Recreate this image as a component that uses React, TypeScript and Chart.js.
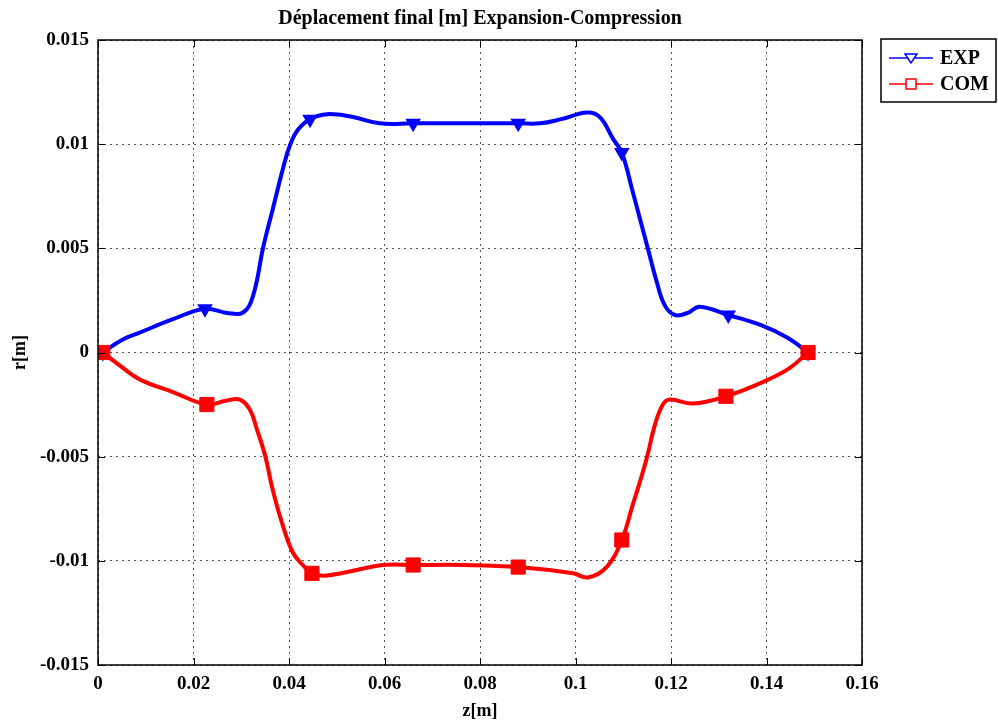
import React, { useEffect, useRef } from "react";
import { Chart, registerables } from "chart.js";

Chart.register(...registerables);

const chartTitle = "Déplacement final [m] Expansion-Compression";
const xTitle = "z[m]";
const yTitle = "r[m]";
const seriesNames = ["EXP", "COM"];

const expZ = [0.001, 0.005, 0.0088, 0.0157, 0.0224, 0.027, 0.0304, 0.0325, 0.0346, 0.0366, 0.0387, 0.0402, 0.0419, 0.0444, 0.048, 0.0534, 0.059, 0.066, 0.075, 0.088, 0.0926, 0.097, 0.1024, 0.1051, 0.1079, 0.1097, 0.112, 0.1152, 0.117, 0.1187, 0.1208, 0.1235, 0.126, 0.132, 0.139, 0.1445, 0.1487];
const expR = [0, 0.0006, 0.00096, 0.0016, 0.0021, 0.0019, 0.00192, 0.00274, 0.00505, 0.00688, 0.0088, 0.00995, 0.0107, 0.0112, 0.01144, 0.0113, 0.011, 0.011, 0.011, 0.011, 0.011, 0.0112, 0.01152, 0.0113, 0.01024, 0.0096, 0.0077, 0.00495, 0.0034, 0.00226, 0.0018, 0.0019, 0.0022, 0.0018, 0.0013, 0.0007, 0];
const expMarkers = [0.001, 0.0224, 0.0444, 0.066, 0.088, 0.1097, 0.132, 0.1487];

const comZ = [0.001, 0.005, 0.0088, 0.0157, 0.0228, 0.027, 0.0297, 0.0318, 0.0333, 0.035, 0.0366, 0.0387, 0.0408, 0.0429, 0.0448, 0.048, 0.0597, 0.066, 0.077, 0.088, 0.0995, 0.1026, 0.1065, 0.1097, 0.112, 0.1135, 0.115, 0.1166, 0.1183, 0.1198, 0.1246, 0.1315, 0.139, 0.1445, 0.1487];
const comR = [0, -0.0007, -0.0013, -0.0019, -0.0025, -0.0023, -0.00226, -0.00274, -0.0037, -0.00495, -0.0066, -0.0083, -0.0096, -0.0102, -0.0106, -0.0107, -0.0102, -0.0102, -0.0102, -0.0103, -0.0106, -0.0108, -0.0103, -0.009, -0.0073, -0.0062, -0.005, -0.0035, -0.0025, -0.00226, -0.00245, -0.0021, -0.00144, -0.0008, 0];
const comMarkers = [0.001, 0.0228, 0.0448, 0.066, 0.088, 0.1097, 0.1315, 0.1487];

const xTicks = [0, 0.02, 0.04, 0.06, 0.08, 0.1, 0.12, 0.14, 0.16];
const yTicks = [-0.015, -0.01, -0.005, 0, 0.005, 0.01, 0.015];

const BLUE = "#0000ff";
const RED = "#ff0000";
const FONT = "'Liberation Serif', 'DejaVu Serif', serif";

function fmt(v: number): string {
  return String(Number(v.toFixed(4)));
}

const decorPlugin = {
  id: "decor",
  afterDraw(chart: any) {
    const { ctx, chartArea } = chart;
    const { left, right, top, bottom } = chartArea;
    const xs = chart.scales.x;
    const ys = chart.scales.y;
    ctx.save();
    ctx.strokeStyle = "#000";
    ctx.lineWidth = 1.5;
    ctx.setLineDash([]);
    ctx.strokeRect(left, top, right - left, bottom - top);
    ctx.lineWidth = 1;
    const tl = 7;
    ctx.beginPath();
    xTicks.forEach((t) => {
      const px = Math.round(xs.getPixelForValue(t)) + 0.5;
      ctx.moveTo(px, bottom);
      ctx.lineTo(px, bottom - tl);
      ctx.moveTo(px, top);
      ctx.lineTo(px, top + tl);
    });
    yTicks.forEach((t) => {
      const py = Math.round(ys.getPixelForValue(t)) + 0.5;
      ctx.moveTo(left, py);
      ctx.lineTo(left + tl, py);
      ctx.moveTo(right, py);
      ctx.lineTo(right - tl, py);
    });
    ctx.stroke();
    ctx.fillStyle = "#000";
    ctx.font = `bold 20px ${FONT}`;
    ctx.textAlign = "center";
    ctx.textBaseline = "middle";
    ctx.fillText(chartTitle, (left + right) / 2, 19);
    ctx.font = `bold 18px ${FONT}`;
    ctx.fillText(xTitle, (left + right) / 2, 711);
    ctx.save();
    ctx.translate(20, (top + bottom) / 2);
    ctx.rotate(-Math.PI / 2);
    ctx.fillText(yTitle, 0, 0);
    ctx.restore();
    ctx.lineWidth = 1.5;
    ctx.strokeStyle = "#000";
    ctx.strokeRect(881, 39, 115, 63);
    const rows = [
      { name: seriesNames[0], color: BLUE, y: 58, shape: "tri" },
      { name: seriesNames[1], color: RED, y: 84, shape: "sq" },
    ];
    rows.forEach((r) => {
      ctx.strokeStyle = r.color;
      ctx.lineWidth = 1.5;
      ctx.beginPath();
      ctx.moveTo(889, r.y);
      ctx.lineTo(933, r.y);
      ctx.stroke();
      ctx.fillStyle = "#fff";
      ctx.beginPath();
      if (r.shape === "tri") {
        ctx.moveTo(905, r.y - 4);
        ctx.lineTo(917, r.y - 4);
        ctx.lineTo(911, r.y + 5);
        ctx.closePath();
      } else {
        ctx.rect(906, r.y - 5, 10, 10);
      }
      ctx.fill();
      ctx.stroke();
      ctx.fillStyle = "#000";
      ctx.font = `bold 20px ${FONT}`;
      ctx.textAlign = "left";
      ctx.fillText(r.name, 940, r.y + 1);
    });
    ctx.restore();
  },
};

function toPoints(zs: number[], rs: number[]) {
  return zs.map((z, i) => ({ x: z, y: rs[i] }));
}

function markerRadius(zs: number[], marks: number[], r: number) {
  return zs.map((z) => (marks.some((m) => Math.abs(m - z) < 1e-9) ? r : 0));
}

export default function App() {
  const ref = useRef<HTMLCanvasElement | null>(null);
  useEffect(() => {
    document.body.style.margin = "0";
    const canvas = ref.current!;
    const chart = new Chart(canvas, {
      type: "line",
      data: {
        datasets: [
          {
            label: seriesNames[0],
            data: toPoints(expZ, expR),
            borderColor: BLUE,
            backgroundColor: BLUE,
            borderWidth: 4,
            tension: 0.4,
            pointStyle: "triangle",
            rotation: 180,
            pointRadius: markerRadius(expZ, expMarkers, 7),
            pointBorderWidth: 2,
            pointBorderColor: BLUE,
            pointBackgroundColor: BLUE,
            order: 2,
          } as any,
          {
            label: seriesNames[1],
            data: toPoints(comZ, comR),
            borderColor: RED,
            backgroundColor: RED,
            borderWidth: 4,
            tension: 0.4,
            pointStyle: "rect",
            pointRadius: markerRadius(comZ, comMarkers, 10),
            pointBorderWidth: 1,
            pointBorderColor: RED,
            pointBackgroundColor: RED,
            order: 1,
          } as any,
        ],
      },
      options: {
        animation: false,
        responsive: false,
        devicePixelRatio: 1,
        layout: { padding: { left: 0, top: 40, right: 136, bottom: 0 } },
        plugins: {
          legend: { display: false },
          title: { display: false },
          tooltip: { enabled: false },
        },
        scales: {
          x: {
            type: "linear",
            min: 0,
            max: 0.16,
            afterBuildTicks: (s: any) => {
              s.ticks = xTicks.map((v) => ({ value: v }));
            },
            afterFit: (s: any) => {
              s.height = 62;
            },
            ticks: {
              callback: (v: any) => fmt(Number(v)),
              color: "#000",
              font: { family: FONT, size: 19, weight: "bold" },
              padding: 8,
              maxRotation: 0,
            },
            grid: { color: "#555", lineWidth: 1, drawTicks: false },
            border: { display: false, dash: [2, 4] },
          },
          y: {
            type: "linear",
            min: -0.015,
            max: 0.015,
            afterBuildTicks: (s: any) => {
              s.ticks = yTicks.map((v) => ({ value: v }));
            },
            afterFit: (s: any) => {
              s.width = 98;
            },
            ticks: {
              callback: (v: any) => fmt(Number(v)),
              color: "#000",
              font: { family: FONT, size: 19, weight: "bold" },
              padding: 9,
            },
            grid: { color: "#555", lineWidth: 1, drawTicks: false },
            border: { display: false, dash: [2, 4] },
          },
        },
      },
      plugins: [decorPlugin],
    } as any);
    return () => chart.destroy();
  }, []);
  return (
    <div style={{ position: "absolute", left: 0, top: 0, width: 998, height: 727, background: "#fff" }}>
      <canvas ref={ref} width={998} height={727} style={{ display: "block", width: 998, height: 727 }} />
    </div>
  );
}
